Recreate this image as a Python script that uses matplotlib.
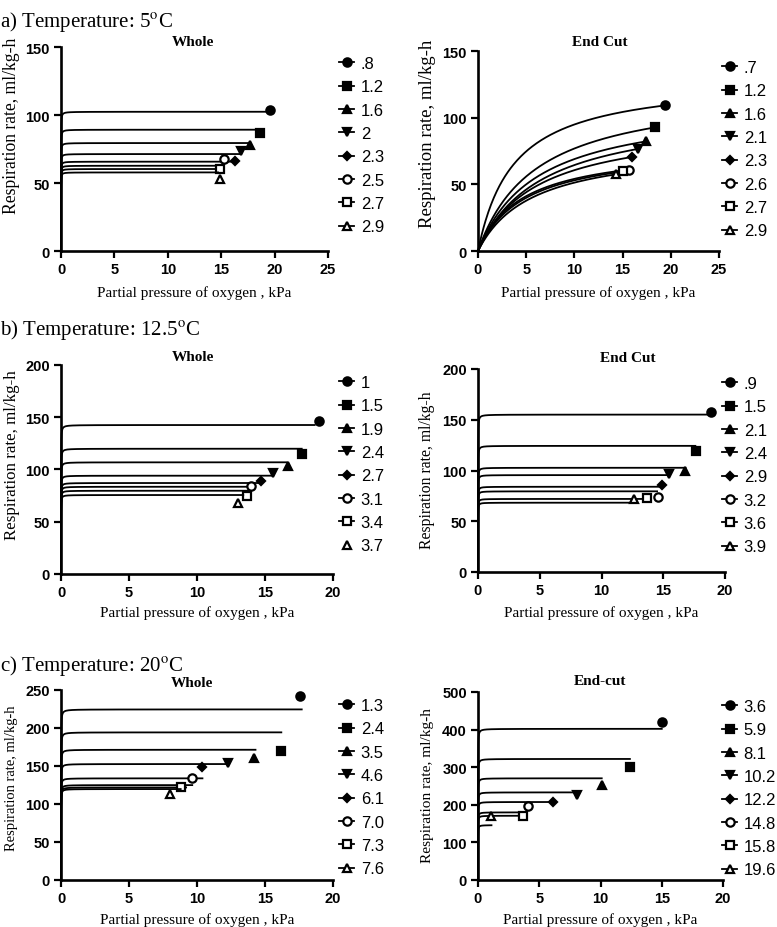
import numpy as np
import matplotlib.pyplot as plt
from matplotlib.lines import Line2D

plt.rcParams['mathtext.fontset'] = 'stix'
plt.rcParams['font.family'] = ['Liberation Serif', 'DejaVu Serif']

W, H = 777, 928

# ---- a) 5 C, whole ----
a_whole_labels = ['.8', '1.2', '1.6', '2', '2.3', '2.5', '2.7', '2.9']
a_whole_vmax = [102.4, 89.2, 79.4, 71.3, 65.7, 62.7, 60.3, 57.8]
a_whole_km = [0.003, 0.003, 0.003, 0.003, 0.003, 0.003, 0.003, 0.003]
a_whole_xend = [19.3, 18.6, 17.6, 16.7, 16.4, 15.2, 14.9, 14.7]
a_whole_px = [19.6, 18.6, 17.7, 16.85, 16.3, 15.3, 14.9, 14.9]
a_whole_py = [103.5, 86.5, 78.2, 73.3, 66.0, 67.4, 60.0, 52.9]

# ---- a) 5 C, end cut ----
a_cut_labels = ['.7', '1.2', '1.6', '2.1', '2.3', '2.6', '2.7', '2.9']
a_cut_vmax = [130, 123, 111, 107, 97, 79, 79, 80]
a_cut_km = [3.7, 6.0, 6.1, 6.6, 6.0, 4.6, 4.9, 5.6]
a_cut_xend = [19.4, 18.4, 17.4, 16.6, 16.0, 15.7, 15.0, 14.3]
a_cut_px = [19.4, 18.4, 17.4, 16.6, 16.0, 15.7, 15.0, 14.3]
a_cut_py = [109.7, 92.7, 82.3, 76.5, 70.3, 60.8, 59.8, 57.8]

# ---- b) 12.5 C, whole ----
b_whole_labels = ['1', '1.5', '1.9', '2.4', '2.7', '3.1', '3.4', '3.7']
b_whole_vmax = [142.6, 119.9, 106.9, 94.1, 87.1, 83.5, 79.7, 75.6]
b_whole_km = [0.003, 0.003, 0.003, 0.003, 0.003, 0.003, 0.003, 0.003]
b_whole_xend = [18.65, 17.7, 16.6, 15.5, 14.6, 14.1, 13.8, 13.4]
b_whole_px = [18.97, 17.75, 16.7, 15.6, 14.7, 14.0, 13.65, 13.0]
b_whole_py = [146.1, 114.8, 103.1, 96.6, 89.3, 84.5, 74.3, 67.9]

# ---- b) 12.5 C, end cut ----
b_cut_labels = ['.9', '1.5', '2.1', '2.4', '2.9', '3.2', '3.6', '3.9']
b_cut_vmax = [155.1, 124.3, 102.7, 95.5, 84.0, 79.5, 72.0, 68.3]
b_cut_km = [0.003, 0.003, 0.003, 0.003, 0.003, 0.003, 0.003, 0.003]
b_cut_xend = [18.8, 17.6, 16.8, 15.5, 14.8, 14.5, 13.5, 12.6]
b_cut_px = [18.84, 17.65, 16.76, 15.5, 14.9, 14.6, 13.66, 12.6]
b_cut_py = [157.4, 119.7, 99.5, 96.7, 85.6, 74.0, 73.0, 72.0]

# ---- c) 20 C, whole ----
c_whole_labels = ['1.3', '2.4', '3.5', '4.6', '6.1', '7.0', '7.3', '7.6']
c_whole_vmax = [224.5, 194.3, 171.4, 152.6, 133.8, 124.9, 121.8, 119.7]
c_whole_km = [0.003, 0.003, 0.003, 0.003, 0.003, 0.003, 0.003, 0.003]
c_whole_xend = [17.7, 16.2, 14.3, 12.3, 10.4, 9.65, 9.2, 8.8]
c_whole_px = [17.6, 16.2, 14.2, 12.3, 10.4, 9.6, 8.8, 8.0]
c_whole_py = [242.1, 169.6, 159.9, 153.8, 148.1, 133.6, 122.0, 113.2]

# ---- c) 20 C, end cut ----
c_cut_labels = ['3.6', '5.9', '8.1', '10.2', '12.2', '14.8', '15.8', '19.6']
c_cut_vmax = [402.1, 322, 270.5, 233.1, 207.5, 180, 171, 146]
c_cut_km = [0.003, 0.003, 0.003, 0.003, 0.003, 0.003, 0.003, 0.003]
c_cut_xend = [15.0, 12.4, 10.1, 8.2, 6.1, 4.0, 3.7, 1.1]
c_cut_px = [15.0, 12.4, 10.1, 8.1, 6.1, 4.1, 3.7, 1.1]
c_cut_py = [420, 299.8, 252.7, 226, 206.4, 196, 171, 171]

markers = ['o', 's', '^', 'v', 'D', 'o', 's', '^']
faces = ['k', 'k', 'k', 'k', 'k', 'w', 'w', 'w']
msizes = [6, 5.5, 6, 6, 4.5, 6, 5.5, 6]

fig = plt.figure(figsize=(W / 100, H / 100), dpi=100)


def rect(x0, y0, x1, y1):
    return [x0 / W, 1 - y1 / H, (x1 - x0) / W, (y1 - y0) / H]


def panel(box, xmax, ymax, ystep, vmax, km, xend, mx, my, labels,
          title, tx, ty, leg_x, leg_y, ylab_x, ylab_y, ylab_fs, xlab_y,
          leg_line=None):
    ax = fig.add_axes(rect(*box))
    for i in range(len(vmax)):
        x = np.concatenate([np.linspace(0, 0.2, 200), np.linspace(0.2, xend[i], 200)])
        x = x[x <= xend[i]]
        ax.plot(x, vmax[i] * x / (km[i] + x), color='k', lw=1.3, clip_on=False)
        ax.plot(mx[i], my[i], marker=markers[i], ms=msizes[i], mfc=faces[i],
                mec='k', mew=1.6, ls='none', clip_on=False)
    ax.set_xlim(0, xmax)
    ax.set_ylim(0, ymax)
    ax.set_xticks(np.arange(0, xmax + 1, 5))
    ax.set_yticks(np.arange(0, ymax + 1, ystep))
    for s in ['top', 'right']:
        ax.spines[s].set_visible(False)
    for s in ['left', 'bottom']:
        ax.spines[s].set_linewidth(1.9)
    ax.tick_params(direction='out', length=5, width=1.6, pad=3)
    for lab in ax.get_xticklabels() + ax.get_yticklabels():
        lab.set_family('Liberation Sans')
        lab.set_weight('bold')
        lab.set_fontsize(10.5)
    # labels
    cx = (box[0] + box[2]) / 2
    fig.text(cx / W, 1 - xlab_y / H, 'Partial pressure of oxygen , kPa',
             ha='center', va='center', fontsize=11)
    fig.text(ylab_x / W, 1 - ylab_y / H, 'Respiration rate, ml/kg-h',
             ha='center', va='center', rotation=90, fontsize=ylab_fs)
    fig.text(tx / W, 1 - ty / H, title, ha='center', va='baseline',
             fontsize=11, fontweight='bold')
    # legend
    handles = []
    for i in range(len(labels)):
        ls = '-'
        if leg_line is not None and not leg_line[i]:
            ls = 'none'
        handles.append(Line2D([], [], color='k', lw=1.3, ls=ls, marker=markers[i],
                              ms=msizes[i], mfc=faces[i], mec='k', mew=1.6))
    ax.legend(handles, labels, loc='upper left', bbox_to_anchor=(leg_x / W, 1 - leg_y / H),
              bbox_transform=fig.transFigure, frameon=False, handlelength=0.9,
              handletextpad=0.4, labelspacing=0.5, borderpad=0, borderaxespad=0,
              prop={'family': 'Liberation Sans', 'size': 12})
    return ax


panel((61, 48, 328, 252), 25, 150, 50, a_whole_vmax, a_whole_km, a_whole_xend,
      a_whole_px, a_whole_py, a_whole_labels, 'Whole', 193, 46,
      339, 57, 12, 126, 12.7, 293)
panel((478, 52, 719, 252), 25, 150, 50, a_cut_vmax, a_cut_km, a_cut_xend,
      a_cut_px, a_cut_py, a_cut_labels, 'End Cut', 600, 46,
      722, 61, 427, 134, 13.5, 293)
panel((61, 366, 333, 575), 20, 200, 50, b_whole_vmax, b_whole_km, b_whole_xend,
      b_whole_px, b_whole_py, b_whole_labels, 'Whole', 193, 361,
      339, 376, 12, 455, 12.2, 613,
      leg_line=[True, True, True, True, True, True, True, False])
panel((478, 370, 725, 573), 20, 200, 50, b_cut_vmax, b_cut_km, b_cut_xend,
      b_cut_px, b_cut_py, b_cut_labels, 'End Cut', 628, 362,
      722, 377, 427, 470, 11.3, 613)
panel((61, 691, 333, 881), 20, 250, 50, c_whole_vmax, c_whole_km, c_whole_xend,
      c_whole_px, c_whole_py, c_whole_labels, 'Whole', 192, 687,
      339, 699, 12, 778, 10.5, 920)
panel((478, 693, 723, 881), 20, 500, 100, c_cut_vmax, c_cut_km, c_cut_xend,
      c_cut_px, c_cut_py, c_cut_labels, 'End-cut', 600, 685,
      722, 700, 427, 786, 11.1, 920)

fig.text(0, 1 - 27 / H, r'a) Temperature: 5$^{\mathrm{o}}$C', ha='left', va='baseline', fontsize=15)
fig.text(0, 1 - 335 / H, r'b) Temperature: 12.5$^{\mathrm{o}}$C', ha='left', va='baseline', fontsize=15)
fig.text(0, 1 - 671 / H, r'c) Temperature: 20$^{\mathrm{o}}$C', ha='left', va='baseline', fontsize=15)

fig.savefig('out.png', dpi=100)
